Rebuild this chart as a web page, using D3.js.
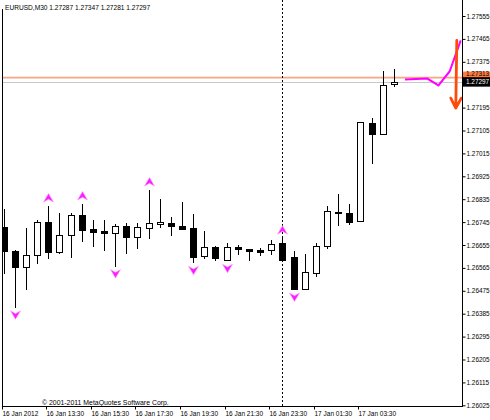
<!DOCTYPE html>
<html><head><meta charset="utf-8">
<script src="https://cdn.jsdelivr.net/npm/d3@7"></script>
<style>
html,body{margin:0;padding:0;background:#fff;}
svg{display:block;font-family:"Liberation Sans",Arial,sans-serif;}
</style></head><body>
<svg id="chart" width="490" height="420"></svg>
<script>
// ---- data ----
const headerText = "EURUSD,M30 1.27287 1.27347 1.27281 1.27297";
const copyrightText = "\u00a9 2001-2011 MetaQuotes Software Corp.";
const opens  = [1.26726,1.26632,1.26570,1.26615,1.26745,1.26626,1.26695,1.26772,1.26716,1.26711,1.26703,1.26729,1.26687,1.26720,1.26736,1.26740,1.26728,1.26720,1.26611,1.26649,1.26598,1.26648,1.26638,1.26635,1.26635,1.26661,1.26607,1.26484,1.26543,1.26650,1.26784,1.26781,1.26750,1.27135,1.27091,1.27287];
const highs  = [1.26795,1.26635,1.26722,1.26754,1.26808,1.26779,1.26779,1.26816,1.26753,1.26755,1.26736,1.26742,1.26743,1.26871,1.26834,1.26764,1.26823,1.26777,1.26709,1.26650,1.26661,1.26655,1.26640,1.26644,1.26673,1.26682,1.26632,1.26619,1.26662,1.26808,1.26854,1.26818,1.27137,1.27153,1.27338,1.27347];
const lows   = [1.26543,1.26412,1.26481,1.26585,1.26604,1.26624,1.26608,1.26671,1.26650,1.26637,1.26574,1.26624,1.26644,1.26681,1.26724,1.26694,1.26718,1.26587,1.26602,1.26598,1.26595,1.26620,1.26598,1.26615,1.26618,1.26598,1.26482,1.26482,1.26532,1.26642,1.26733,1.26736,1.26750,1.26978,1.27091,1.27281];
const closes = [1.26632,1.26570,1.26615,1.26745,1.26628,1.26696,1.26773,1.26713,1.26705,1.26704,1.26729,1.26687,1.26724,1.26742,1.26745,1.26729,1.26718,1.26606,1.26649,1.26602,1.26649,1.26640,1.26632,1.26628,1.26659,1.26598,1.26484,1.26547,1.26650,1.26787,1.26783,1.26746,1.27137,1.27091,1.27282,1.27297];
const timeLabels = ["16 Jan 2012","16 Jan 13:30","16 Jan 15:30","16 Jan 17:30","16 Jan 19:30","16 Jan 21:30","16 Jan 23:30","17 Jan 01:30","17 Jan 03:30"];
const timeLabelBars = [0,4,8,12,16,20,24,28,32];
const priceTicks = [1.27555,1.27465,1.27375,1.27285,1.27195,1.27105,1.27015,1.26925,1.26835,1.26745,1.26655,1.26565,1.26475,1.26385,1.26295,1.26205,1.26115,1.26025];
const upFractalBars = [4,7,13,25];
const downFractalBars = [1,10,17,20,26];
const forecastBars = [36,37,38,39,40,41];
const forecastValues = [1.27305,1.27307,1.27309,1.27282,1.27337,1.27459];
const separatorBars = [25];
const bidPrice = [1.27297];
const levelPrice = [1.27313];
const signalArrowBar = [40.6];
const signalArrowPrices = [1.27459,1.27193];

// ---- drawing ----
const svg = d3.select("#chart");
const W = 490, H = 420;
const plotL = 2, plotR = 462, plotT = 0, plotB = 406;

const x = d3.scaleLinear().domain([0, 41]).range([3.6, 3.6 + 11.15 * 41]);
const y = d3.scaleLinear().domain([1.26025, 1.27555]).range([405.3, 16]);
const px = v => Math.round(v);

svg.append("rect").attr("width", W).attr("height", H).attr("fill", "#fff");

// horizontal level lines
svg.append("line").attr("x1", plotL).attr("x2", plotR)
  .attr("y1", y(levelPrice[0])).attr("y2", y(levelPrice[0]))
  .attr("stroke", "#F6A683").attr("stroke-width", 1.6);
svg.append("line").attr("x1", plotL).attr("x2", plotR)
  .attr("y1", px(y(bidPrice[0])) + 0.5).attr("y2", px(y(bidPrice[0])) + 0.5)
  .attr("stroke", "#C8C8C8").attr("stroke-width", 1);

// day separator
svg.selectAll("line.sep").data(separatorBars).join("line").attr("class", "sep")
  .attr("x1", d => px(x(d)) + 0.5).attr("x2", d => px(x(d)) + 0.5)
  .attr("y1", plotT).attr("y2", plotB)
  .attr("stroke", "#000").attr("stroke-width", 1).attr("stroke-dasharray", "2,2");

// candles
const idx = d3.range(opens.length);
const cg = svg.append("g").attr("clip-path", "url(#plotclip)");
svg.append("clipPath").attr("id", "plotclip").append("rect")
  .attr("x", plotL).attr("y", plotT).attr("width", plotR - plotL).attr("height", plotB - plotT);

cg.selectAll("line.wick").data(idx).join("line").attr("class", "wick")
  .attr("x1", i => px(x(i)) + 0.5).attr("x2", i => px(x(i)) + 0.5)
  .attr("y1", i => px(y(highs[i]))).attr("y2", i => px(y(lows[i])) + 1)
  .attr("stroke", "#000").attr("stroke-width", 1);

idx.forEach(i => {
  const top = px(y(Math.max(opens[i], closes[i])));
  const bot = px(y(Math.min(opens[i], closes[i])));
  const cx = px(x(i));
  if (closes[i] >= opens[i]) {
    cg.append("rect").attr("x", cx - 2.5).attr("y", top + 0.5)
      .attr("width", 6).attr("height", Math.max(bot - top, 1))
      .attr("fill", "#fff").attr("stroke", "#000").attr("stroke-width", 1);
  } else {
    cg.append("rect").attr("x", cx - 3).attr("y", top)
      .attr("width", 7).attr("height", Math.max(bot - top + 1, 2))
      .attr("fill", "#000");
  }
});

// fractal arrows
const upPath = "M0,-4.5 L5,4 L0,1.2 L-5,4 Z";
const dnPath = "M0,4.5 L5,-4 L0,-1.2 L-5,-4 Z";
svg.selectAll("path.fup").data(upFractalBars).join("path").attr("class", "fup")
  .attr("d", upPath)
  .attr("transform", i => `translate(${px(x(i)) + 0.5},${y(highs[i]) - 8})`)
  .attr("fill", "#FF1AFF").attr("stroke", "#FF9CFF").attr("stroke-width", 0.6);
svg.selectAll("path.fdn").data(downFractalBars).join("path").attr("class", "fdn")
  .attr("d", dnPath)
  .attr("transform", i => `translate(${px(x(i)) + 0.5},${y(lows[i]) + 8})`)
  .attr("fill", "#FF1AFF").attr("stroke", "#FF9CFF").attr("stroke-width", 0.6);

// forecast line
svg.append("path").datum(d3.range(forecastBars.length))
  .attr("d", d3.line().x(i => x(forecastBars[i])).y(i => y(forecastValues[i])))
  .attr("fill", "none").attr("stroke", "#FF00FF").attr("stroke-width", 2);

// signal arrow
const ax = x(signalArrowBar[0]);
const ay0 = y(signalArrowPrices[0]), ay1 = y(signalArrowPrices[1]);
svg.append("path")
  .attr("d", `M${ax + 0.5},${ay0} L${ax - 0.5},${ay1} M${ax - 5.5},${ay1 - 10} L${ax - 0.5},${ay1} L${ax + 5},${ay1 - 10}`)
  .attr("fill", "none").attr("stroke", "#FF4A0A").attr("stroke-width", 2.8)
  .attr("stroke-linecap", "round").attr("stroke-linejoin", "round");

// frame
svg.append("line").attr("x1", plotL + 0.5).attr("x2", plotL + 0.5).attr("y1", 9).attr("y2", plotB + 0.5)
  .attr("stroke", "#000");
svg.append("line").attr("x1", plotL).attr("x2", plotR + 1).attr("y1", plotB + 0.5).attr("y2", plotB + 0.5)
  .attr("stroke", "#000");
svg.append("line").attr("x1", plotR + 0.5).attr("x2", plotR + 0.5).attr("y1", plotT).attr("y2", plotB + 1)
  .attr("stroke", "#000");

// right axis (label hidden under the price boxes is not drawn)
const lvY = y(levelPrice[0]);
const bY = y(bidPrice[0]);
const ya = svg.append("g").attr("transform", `translate(${plotR + 0.5},0)`)
  .call(d3.axisRight(y).tickValues(priceTicks).tickSize(3).tickPadding(1)
    .tickFormat(d => (Math.abs(y(d) - bY) < 8 ? "" : d3.format(".5f")(d))));
ya.select(".domain").remove();
ya.selectAll("text").attr("font-size", 6.4).attr("font-family", "Liberation Sans, Arial, sans-serif").attr("fill", "#000");
ya.selectAll("line").attr("stroke", "#000");

// price labels on axis
svg.append("rect").attr("x", plotR + 1).attr("y", lvY - 6).attr("width", W - plotR - 1).attr("height", 9.5).attr("fill", "#FF7A3C");
svg.append("text").attr("x", plotR + 4).attr("y", lvY - 1.2).attr("font-size", 6.4).attr("fill", "#000").text(d3.format(".5f")(levelPrice[0]));
svg.append("rect").attr("x", plotR + 1).attr("y", bY - 4.5).attr("width", W - plotR - 1).attr("height", 9.5).attr("fill", "#000");
svg.append("text").attr("x", plotR + 4).attr("y", bY + 2.3).attr("font-size", 6.4).attr("fill", "#fff").text(d3.format(".5f")(bidPrice[0]));

// bottom axis
const xa = svg.append("g").attr("transform", `translate(0,${plotB + 0.5})`)
  .call(d3.axisBottom(x).tickValues(timeLabelBars).tickSize(3).tickPadding(2)
    .tickFormat((d, i) => timeLabels[i]));
xa.select(".domain").remove();
xa.selectAll(".tick").attr("transform", d => `translate(${px(x(d)) - 1.5},0)`);
xa.selectAll("text").attr("text-anchor", "start").attr("x", 0).attr("font-size", 6.5)
  .attr("font-family", "Liberation Sans, Arial, sans-serif").attr("fill", "#000");
xa.selectAll("line").attr("stroke", "#000");

// header and copyright
svg.append("text").attr("x", 5).attr("y", 10).attr("font-size", 6.6).attr("fill", "#000").text(headerText);
svg.append("text").attr("x", 42).attr("y", 404.5).attr("font-size", 6.9).attr("fill", "#000").text(copyrightText);
</script>
</body></html>
